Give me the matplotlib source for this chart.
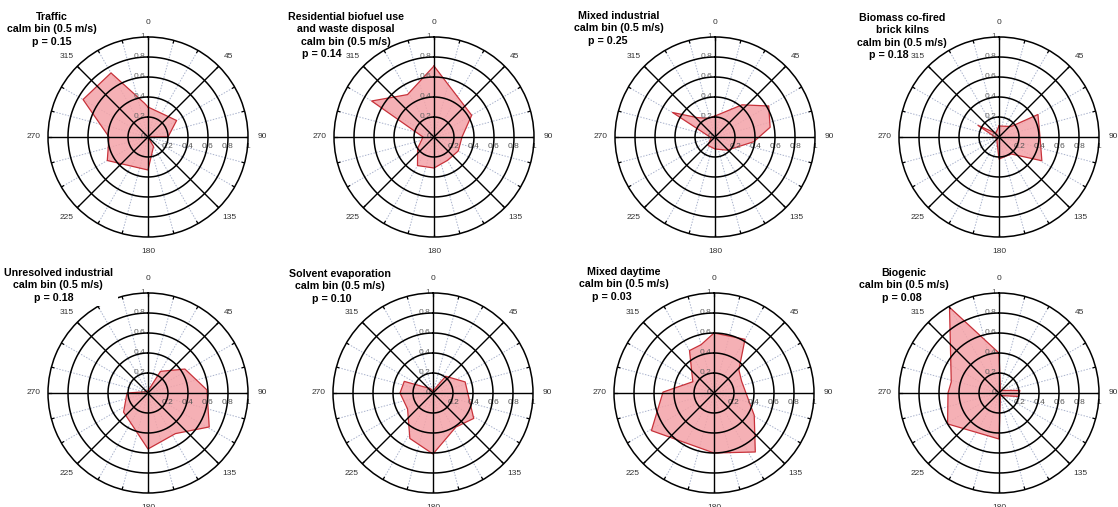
import numpy as np
import matplotlib
matplotlib.use("Agg")
import matplotlib.pyplot as plt
from matplotlib.patches import Rectangle

plt.rcParams['font.family'] = ['Liberation Sans', 'DejaVu Sans']

# wind direction (deg) / normalised value for each factor
traffic_dir = [0, 60, 90, 120, 150, 180, 240, 270, 300, 330, 354]
traffic_val = [0.30, 0.33, 0.20, 0.0, 0.11, 0.33, 0.47, 0.39, 0.75, 0.74, 0.34]

residential_dir = [0, 60, 90, 120, 150, 180, 210, 235, 270, 300, 328]
residential_val = [0.71, 0.435, 0.28, 0.28, 0.27, 0.31, 0.33, 0.20, 0.11, 0.72, 0.50]

mixed_ind_dir = [0, 40, 60, 80, 97, 137, 180, 220, 260, 300, 318, 340]
mixed_ind_val = [0.21, 0.42, 0.62, 0.56, 0.39, 0.18, 0.12, 0.11, 0.04, 0.49, 0.26, 0.20]

biomass_dir = [0, 49, 60, 90, 119, 144, 180, 230, 270, 299, 320]
biomass_val = [0.11, 0.16, 0.45, 0.41, 0.49, 0.21, 0.22, 0.03, 0.04, 0.24, 0.05]

unresolved_dir = [0, 30, 57, 87, 119, 146, 180, 232, 270, 310]
unresolved_val = [0.02, 0.25, 0.44, 0.59, 0.70, 0.49, 0.56, 0.31, 0.21, 0.02]

solvent_dir = [0, 37, 71, 122, 146, 180, 207, 238, 270, 292, 330]
solvent_val = [0.02, 0.21, 0.34, 0.48, 0.41, 0.61, 0.51, 0.30, 0.33, 0.31, 0.05]

daytime_dir = [0, 30, 47, 67, 119, 145, 180, 239, 271, 298, 330, 345]
daytime_val = [0.60, 0.62, 0.34, 0.30, 0.46, 0.72, 0.60, 0.73, 0.51, 0.24, 0.49, 0.50]

biogenic_dir = [0, 30, 83, 100, 150, 180, 239, 270, 283, 330]
biogenic_val = [0.40, 0.03, 0.21, 0.20, 0.03, 0.46, 0.60, 0.51, 0.49, 0.99]

titles = [
    ["Traffic", "calm bin (0.5 m/s)", "p = 0.15"],
    ["Residential biofuel use", "and waste disposal", "calm bin (0.5 m/s)", "p = 0.14"],
    ["Mixed industrial", "calm bin (0.5 m/s)", "p = 0.25"],
    ["Biomass co-fired", "brick kilns", "calm bin (0.5 m/s)", "p = 0.18"],
    ["Unresolved industrial", "calm bin (0.5 m/s)", "p = 0.18"],
    ["Solvent evaporation", "calm bin (0.5 m/s)", "p = 0.10"],
    ["Mixed daytime", "calm bin (0.5 m/s)", "p = 0.03"],
    ["Biogenic", "calm bin (0.5 m/s)", "p = 0.08"],
]
series = [
    (traffic_dir, traffic_val), (residential_dir, residential_val),
    (mixed_ind_dir, mixed_ind_val), (biomass_dir, biomass_val),
    (unresolved_dir, unresolved_val), (solvent_dir, solvent_val),
    (daytime_dir, daytime_val), (biogenic_dir, biogenic_val),
]

ring_vals = [0.2, 0.4, 0.6, 0.8, 1.0]
ring_labels = ["0.2", "0.4", "0.6", "0.8", "1"]
angle_labels = [0, 45, 90, 135, 180, 225, 270, 315]

W, H = 1118, 507
R = 100
centers = [(148, 137), (434, 137), (715, 137), (999, 137),
           (148, 393), (433, 393), (714, 393), (999, 393)]
# title: x of centred lines, y of first line, x of the p line (pixels)
title_pos = [(52, 17, 52), (346, 17, 322), (619, 16, 608), (902, 18, 889),
             (58, 273, 54), (340, 274, 332), (624, 272, 612), (904, 273, 902)]
line_step = 12.3

fig = plt.figure(figsize=(W / 100, H / 100), dpi=100)

full = np.linspace(0, 2 * np.pi, 361)
for i, ((cx, cy), (d, v)) in enumerate(zip(centers, series)):
    ax = fig.add_axes([(cx - R) / W, (H - cy - R) / H, 2 * R / W, 2 * R / H],
                      projection='polar')
    ax.set_theta_zero_location('N')
    ax.set_theta_direction(-1)
    ax.set_ylim(0, 1)
    ax.grid(False)
    ax.set_xticks([])
    ax.set_yticks([])
    ax.spines['polar'].set_linewidth(1.1)
    ax.spines['polar'].set_color('black')
    ax.patch.set_alpha(0)

    th = np.deg2rad(d + [d[0]])
    rv = v + [v[0]]
    ax.fill(th, rv, color='#f4a3a8', alpha=0.85, zorder=1, lw=0)
    ax.plot(th, rv, color='#c8323a', lw=0.9, zorder=2)

    # light dotted spokes every 15 deg, ticks on the outer ring
    for a in range(0, 360, 15):
        if a % 45:
            ax.plot([np.deg2rad(a)] * 2, [0, 1], color='#a9b2cc', lw=0.7,
                    ls=(0, (1.5, 1.5)), zorder=0.5)
        ax.plot([np.deg2rad(a)] * 2, [0.975, 1.0], color='black', lw=0.9, zorder=3)
    for a in range(0, 360, 45):
        ax.plot([np.deg2rad(a)] * 2, [0, 1], color='black', lw=1.0, zorder=3)
    for r in ring_vals[:-1]:
        ax.plot(full, np.full_like(full, r), color='black', lw=1.1, zorder=3)

    # radial labels along north and east spokes
    ax.annotate("0", xy=(0, 0), xytext=(-3, 0), textcoords='offset pixels',
                ha='right', va='center', fontsize=6, color='#555555', zorder=2.5)
    for r, lab in zip(ring_vals, ring_labels):
        ax.annotate(lab, xy=(0, r), xytext=(-3, 0), textcoords='offset pixels',
                    ha='right', va='center', fontsize=6, color='#666666', zorder=2.5)
        ax.annotate(lab, xy=(np.pi / 2, r), xytext=(0, -10), textcoords='offset pixels',
                    ha='center', va='center', fontsize=6, color='#555555', zorder=2.5)
    for a in angle_labels:
        ax.text(np.deg2rad(a), 1.145, str(a), ha='center', va='center',
                fontsize=6, color='#333333', clip_on=False)

# the "Unresolved industrial" title sits on a white box that hides part of the ring
fig.add_artist(Rectangle((8 / W, 1 - 306 / H), 110 / W, 44 / H,
                         transform=fig.transFigure, facecolor='white',
                         edgecolor='none', zorder=2))

for i, lines in enumerate(titles):
    tx, ty, px = title_pos[i]
    for k, line in enumerate(lines):
        x = px if k == len(lines) - 1 else tx
        fig.text(x / W, 1 - (ty + k * line_step) / H, line, ha='center',
                 va='center', fontsize=7.7, fontweight='bold', zorder=3)

fig.savefig('out.png', dpi=100)
